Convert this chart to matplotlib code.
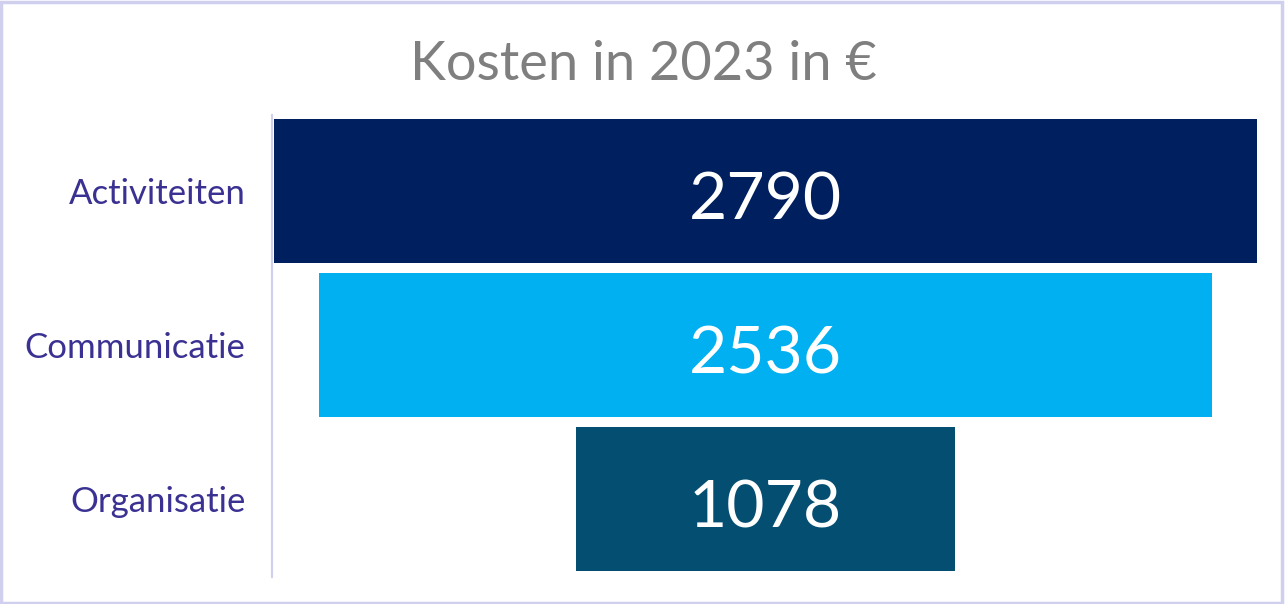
import matplotlib
matplotlib.use("Agg")
import matplotlib.pyplot as plt
from matplotlib.patches import Rectangle

categories = ["Activiteiten", "Communicatie", "Organisatie"]
values = [2790, 2536, 1078]
colors = ["#001f5f", "#00b0f0", "#044f71"]
title = "Kosten in 2023 in €"

plt.rcParams['font.family'] = ['Lato', 'DejaVu Sans']

W, H = 1285, 604
fig = plt.figure(figsize=(W / 100, H / 100), dpi=100)
fig.patch.set_facecolor("white")
fig.patches.append(Rectangle((0.001, 0.002), 0.997, 0.995, transform=fig.transFigure,
                             fill=False, edgecolor="#d0cfee", linewidth=2.5))

ax = fig.add_axes([272 / W, 1 - 577 / H, 987 / W, 462 / H])
ypos = list(range(len(categories)))
lefts = [-v / 2 for v in values]
ax.barh(ypos, values, left=lefts, height=0.935, color=colors)
ax.set_xlim(-1401, 1401)
ax.set_ylim(2.506, -0.4935)
for y, v in zip(ypos, values):
    ax.text(0, y + 0.065, str(v), ha="center", va="center", color="white", fontsize=47.5)

ax.set_yticks(ypos)
ax.set_yticklabels(categories, fontsize=25, color="#3a3192")
ax.tick_params(axis="y", length=0, pad=19)
ax.set_xticks([])
for s in ["top", "right", "bottom"]:
    ax.spines[s].set_visible(False)
ax.spines["left"].set_color("#d0cfee")
ax.spines["left"].set_linewidth(1.5)

fig.text(643 / W, 1 - 64 / H, title, ha="center", va="center", color="#7f7f7f", fontsize=39)

fig.savefig("out.png", dpi=100)
